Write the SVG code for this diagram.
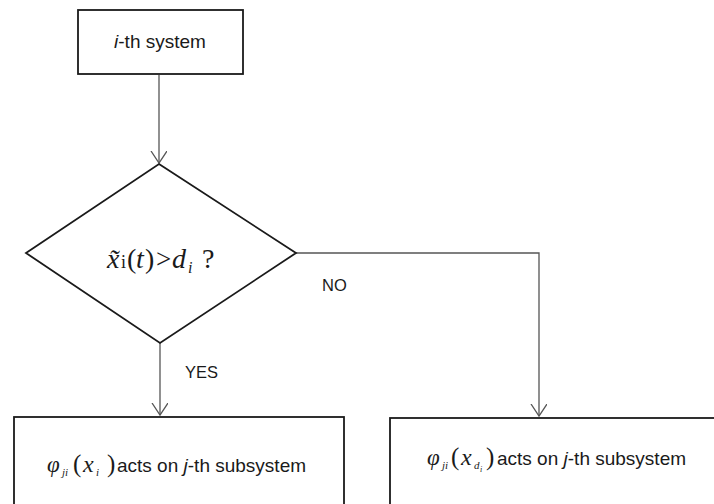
<svg xmlns="http://www.w3.org/2000/svg" width="714" height="504" viewBox="0 0 714 504">
<style>
.box{fill:#fff;stroke:#1a1a1a;stroke-width:1.8}
.conn{fill:none;stroke:#555;stroke-width:1.3}
.lbl{font-family:"Liberation Sans",Arial,sans-serif;font-size:19px;fill:#1a1a1a}
.tag{font-family:"Liberation Sans",Arial,sans-serif;font-size:16.5px;fill:#1a1a1a}
.math{font-family:"Liberation Serif","Times New Roman",serif;font-style:italic;fill:#1a1a1a}
.up{font-family:"Liberation Serif","Times New Roman",serif;font-style:normal;fill:#1a1a1a}
</style>
<defs>
<marker id="arr" markerUnits="userSpaceOnUse" markerWidth="20" markerHeight="20" refX="12" refY="8" orient="auto" viewBox="0 0 20 20">
<path d="M0,0 L12,8 L0,16" fill="none" stroke="#555" stroke-width="1.3"/>
</marker>
</defs>
<rect width="714" height="504" fill="#fff"/>
<g id="connectors">
<path class="conn" d="M159,75 L159,163" marker-end="url(#arr)"/>
<path class="conn" d="M160,343 L160,415" marker-end="url(#arr)"/>
<path class="conn" d="M296,253 L539,253 L539,416" marker-end="url(#arr)"/>
</g>
<g id="start">
<rect class="box" x="78" y="10" width="165" height="64"/>
<text class="lbl" x="160" y="48" text-anchor="middle"><tspan font-style="italic">i</tspan>-th system</text>
</g>
<g id="decision">
<polygon class="box" points="159,164 296,253 160,343 26,253"/>
<text y="268"><tspan class="math" x="107" font-size="28">x̃</tspan><tspan class="up" x="121" font-size="18">i</tspan><tspan class="up" x="127" font-size="28">(</tspan><tspan class="math" x="136" font-size="28">t</tspan><tspan class="up" x="145" font-size="28">)</tspan><tspan class="up" x="156" font-size="27">&gt;</tspan><tspan class="math" x="172" font-size="28">d</tspan><tspan class="math" x="188" font-size="16" dy="5">i</tspan><tspan class="up" x="202" font-size="28" dy="-5">?</tspan></text>
</g>
<g id="yes-box">
<rect class="box" x="14" y="417" width="330" height="100"/>
<text y="472"><tspan class="math" x="47" font-size="23">φ</tspan><tspan class="math" x="62" font-size="11" dy="4">ji</tspan><tspan class="up" x="73" font-size="25" dy="-4">(</tspan><tspan class="math" x="83" font-size="24">x</tspan><tspan class="math" x="96" font-size="11" dy="4">i</tspan><tspan class="up" x="107" font-size="25" dy="-4">)</tspan><tspan class="lbl" x="117">acts on <tspan font-style="italic">j</tspan>-th subsystem</tspan></text>
</g>
<g id="no-box">
<rect class="box" x="390" y="418" width="330" height="100"/>
<text y="465"><tspan class="math" x="427" font-size="23">φ</tspan><tspan class="math" x="442" font-size="11" dy="4">ji</tspan><tspan class="up" x="451" font-size="25" dy="-4">(</tspan><tspan class="math" x="461" font-size="24">x</tspan><tspan class="math" x="474" font-size="11" dy="4">d</tspan><tspan class="math" x="480" font-size="8" dy="3">i</tspan><tspan class="up" x="486" font-size="25" dy="-7">)</tspan><tspan class="lbl" x="497">acts on <tspan font-style="italic">j</tspan>-th subsystem</tspan></text>
</g>
<text class="tag" x="322" y="291">NO</text>
<text class="tag" x="185" y="378">YES</text>
</svg>
